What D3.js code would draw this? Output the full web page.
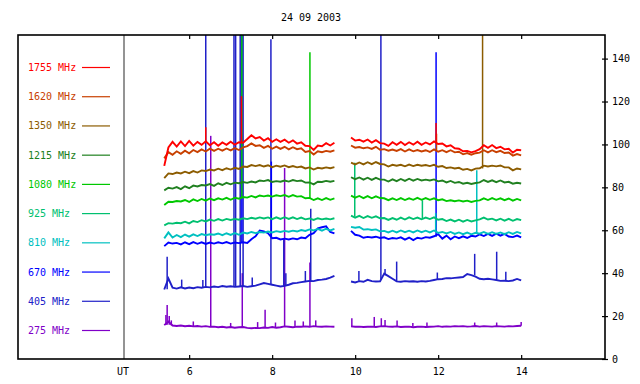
<!DOCTYPE html>
<html>
<head>
<meta charset="utf-8">
<script src="https://cdn.jsdelivr.net/npm/d3@7"></script>
<style>
  html, body { margin: 0; padding: 0; background: #ffffff; }
  svg { display: block; }
  text { font-family: "DejaVu Sans Mono", "Liberation Mono", monospace; font-size: 10px; }
</style>
</head>
<body>
<svg id="chart" width="640" height="384"></svg>
<script>
// ---------------- DATA ----------------
const title = "24 09 2003";
const xTicks = [6, 8, 10, 12, 14];
const yTicks = [0, 20, 40, 60, 80, 100, 120, 140];
const channels = ["1755 MHz", "1620 MHz", "1350 MHz", "1215 MHz", "1080 MHz", "925 MHz", "810 MHz", "670 MHz", "405 MHz", "275 MHz"];

// UT hours of the two observing intervals
const hoursA = [5.4,5.5,5.6,5.7,5.8,5.9,6.0,6.1,6.2,6.3,6.4,6.5,6.6,6.7,6.8,6.9,7.0,7.1,7.2,7.3,7.4,7.5,7.6,7.7,7.8,7.9,8.0,8.1,8.2,8.3,8.4,8.5,8.6,8.7,8.8,8.9,9.0,9.1,9.2,9.3,9.4,9.5];
const hoursB = [9.9,10.0,10.1,10.2,10.3,10.4,10.5,10.6,10.7,10.8,10.9,11.0,11.1,11.2,11.3,11.4,11.5,11.6,11.7,11.8,11.9,12.0,12.1,12.2,12.3,12.4,12.5,12.6,12.7,12.8,12.9,13.0,13.1,13.2,13.3,13.4,13.5,13.6,13.7,13.8,13.9,14.0];

const f1755A = [90,98.6,101.2,99,101.4,99.2,101.6,99.4,101.2,99.8,101.5,99.6,101,99.4,100.9,99.8,101.3,99.9,101,100.8,102.5,104.3,102.8,103.4,101.8,102.9,101.2,102.4,101.2,102.2,100.8,101.9,100.4,101,99.4,99.2,97.4,99.5,99.2,100.6,99.5,100.8];
const f1755B = [103.2,101.8,102.2,101.3,102.3,100.9,102,100.6,100.4,99.3,101,99.8,101.2,99.7,101,99.9,101.3,99.8,100.9,100,101.4,100.2,100.4,99.1,99.6,98.2,98,96.8,97,96.3,96.9,97.8,99.6,98.4,99.7,98.3,98.9,97.7,98,96.2,97.5,97.3];
const f1755Spikes = [[6.40,101,108],[7.26,101,122.5],[11.95,100.5,110]];

const f1620A = [93.5,96.4,95.2,96.8,95.6,97.1,95.9,97.4,96.4,97.7,96.7,98,97,98,97.1,98.1,97.2,98.3,97.4,98.6,99.2,100.5,99.3,99.6,98.4,99.3,98,99,97.9,98.9,97.7,98.7,97.8,98.2,96.5,96.9,95.3,96.8,96.4,97,96.6,97.2];
const f1620B = [99.5,98.5,98.8,98.2,98.6,97.9,98.9,97.5,97.8,97.1,97.6,97,97.8,96.7,97.7,96.8,97.4,96.7,97.3,96.5,97.7,96.6,97.3,96.4,97.3,96.3,96.6,95.4,96,95.2,95.9,96.2,97.3,96.3,97.3,96.4,97,96,96.2,94.8,95.5,94.9];
const f1620Spikes = [[11.96,97,105]];

const f1350A = [84.3,86.5,86.2,86.9,86.5,87.3,86.6,87.6,86.9,87.9,87.6,88.3,87.9,88.7,88,88.9,88.3,89.1,88.6,89.7,89.5,90.4,89.9,90.4,89.7,90.3,89.4,90.1,89.6,90.2,89.4,89.9,89.3,89.7,88.8,89.3,88.3,89.1,88.8,89.3,88.9,89.4];
const f1350B = [91.5,90.7,91.6,90.7,91.7,90.8,91.8,90.9,90.7,89.7,90.5,90.1,90.5,89.8,90.6,89.9,90.5,90.1,90.4,89.9,90.5,89.6,89.9,89,89.3,88.8,89.1,88.2,88.6,87.9,88.7,88.9,90.1,89.7,90.1,89.8,90.2,89.3,89.3,87.9,88.8,88.4];
const f1350Spikes = [[13.07,88.8,151]];

const f1215A = [78.6,79.8,79.4,80.1,79.2,80.5,79.6,80.8,80.4,81.1,80.9,81.5,80.7,81.9,81.1,82.1,81.4,82.2,81.9,82.5,82.1,82.7,82.3,83.2,82.9,83.4,82.5,82.9,82.6,83.2,82.7,83.4,82.9,83.2,82.2,82.3,81.4,82.6,82.5,83,82.6,83];
const f1215B = [84.7,83.8,84.6,83.6,84.5,83.5,84.4,83.6,83.6,82.7,83.7,82.9,83.9,83,84,83.1,83.9,83.2,83.6,83.2,83.7,82.8,83.2,82.3,83,82.1,82.5,81.7,82.1,81.6,82,82.3,83.4,82.5,83.3,82.4,83.2,82.3,82.6,81.7,82.1,81.8];
const f1215Spikes = [];

const f1080A = [71.8,73.3,73.2,73.6,73.4,74.1,73.2,74.4,73.6,74.6,73.8,74.8,74,74.9,74.3,75.1,74.2,75.2,74.7,75.5,75.2,76,75.3,76.2,75.8,76.2,75.7,76.3,75.9,76.4,75.6,76.4,75.7,75.9,74.9,75.1,74.1,74.9,74.1,75,74.2,74.9];
const f1080B = [76.1,75.2,76,75,75.9,74.9,75.8,75,74.9,74,74.9,74.1,75,74.1,74.9,74.2,75.1,74.2,75,74.2,74.9,74,74.4,73.6,74,73.5,73.9,73.4,73.8,73.2,73.7,73.9,74.9,74.1,75,74.2,74.9,74,74.8,73.8,74.6,73.9];
const f1080Spikes = [[8.91,74.8,143],[7.27,75.2,151]];

const f925A = [62.3,63.3,63.1,63.5,63.3,64,63.2,64.3,63.8,64.7,64.1,65,64.4,65.2,64.5,65.3,64.8,65.3,64.9,65.6,65.2,65.8,65.4,66,65.5,66,65.2,66,65.3,66.1,65.3,66,65.2,65.9,65.1,65.5,64.8,65.6,65.1,65.5,65.1,65.6];
const f925B = [66.8,65.9,66.7,65.7,66.6,65.8,66.5,65.6,65.7,64.8,65.7,64.9,65.9,65,66,65.2,65.9,65.1,65.9,65.2,66,64.9,65.2,64.3,65,64.1,64.9,64,64.8,64.1,64.6,65.1,65.9,65,65.4,64.6,65.4,64.5,65.3,64.4,65.2,64.7];
const f925Spikes = [[9.99,66.3,91.5],[11.62,65.4,74]];

const f810A = [56.2,59,56.6,57.8,56.8,58,57,58.1,57.3,58.2,57.7,58.1,57.9,58.5,57.7,58.6,57.8,58.7,57.9,58.9,58.5,59.2,58.7,59.2,58.9,59.4,59,59.6,59.2,59.7,59.3,59.8,59.4,60.1,59.7,60.4,59.9,60.6,59.8,60.7,59.9,60.6];
const f810B = [61.6,61.2,61.5,60.3,60.5,60.1,60.4,59.5,59.7,59,59.8,59,59.9,59.1,59.8,59,59.9,59.1,59.8,59,59.9,58.8,59.2,58.5,59.2,58.3,59,58.2,58.9,58.1,58.8,58.4,59.2,58.3,59.1,58.3,59,58.2,59.1,58.3,59.2,58.5];
const f810Spikes = [[12.93,58.5,88],[11.94,59.4,68]];

const f670A = [52.6,54.3,53.8,54.1,53.4,54.4,53.5,54.5,53.7,54.4,53.6,54.3,53.8,54.4,53.9,54.5,53.8,54.3,54,54.4,54.1,55.8,57.2,59.9,59.5,58.6,56.3,56.5,55.7,56.1,55.7,56.2,55.8,56.6,56.3,57.9,58.6,60.9,61.4,61.8,59.2,58.5];
const f670B = [59.7,57.9,57.5,56.5,56.9,56.6,57,56.4,56.7,55.9,56.4,56.1,56.7,55.6,56.6,55.4,56.5,56.1,56.8,56.5,57.2,58.2,56.1,57.5,55.8,57.1,56.3,57.2,56.4,57.4,57.1,58.1,57.3,58.3,57.4,58.4,57.5,58.3,57.1,56.8,57.5,56.7];
const f670Spikes = [[11.95,57,143],[7.27,54.1,151],[7.98,57,92]];

const f405A = [32.4,37.5,33.2,32.8,33.4,32.9,33.3,33,33.5,33.2,33.6,33.4,33.8,33.5,34,33.7,33.9,33.6,33.8,34,33.6,33.9,34.2,34.8,35.4,35,34.6,34.2,33.8,34.1,34.6,35.3,35.5,35.8,36.1,36.4,36.3,36.8,37,37.3,37.9,38.7];
const f405B = [36.1,35.7,36.3,36,36.9,36.3,36.1,36.2,39.8,38.6,37.4,36.2,36,36.3,36.1,36.2,36,36.3,36.1,36.4,36.8,37.2,37.3,37.7,37.6,37.8,38,38.2,39.6,39.1,38.4,37.4,37.2,37.4,37.1,36.8,36.4,36.5,36.3,36.6,37.3,36.6];
const f405Spikes = [[5.47,32.5,47.7],[5.82,33.4,37],[6.33,33.2,36.8],[6.40,33.6,151],[7.08,33.9,151],[7.12,33.7,151],[7.23,34,151],[7.30,34,151],[7.52,33.9,38],[7.97,35,149],[8.28,34,56],[8.33,34.1,40],[8.80,36.1,41],[8.93,36.4,70],[10.09,36.5,41],[10.62,37,151],[10.72,39,42],[11.0,36.2,45.4],[11.98,37.2,40.3],[12.88,39,49],[13.41,37,50],[13.63,36.4,40.7]];

const f275A = [15.8,17.5,15.6,15.4,15.6,15.3,15.5,15.2,15.4,15.1,15.3,15,15.1,14.8,15,14.7,14.9,14.6,14.8,14.9,14.5,14.3,14.5,14.4,14.7,14.5,14.9,14.6,14.8,15.2,15,14.8,15.1,15,15.2,15,15.3,15.1,15,15.2,15.1,15];
const f275B = [15.2,15,15.1,14.9,15,15.1,14.9,15.2,15.3,15.1,15,15.2,14.9,15,15.1,14.8,15,15.1,14.9,15,15.1,15.3,15,15.2,15.1,15.3,15.2,15.3,15.1,15.2,15.4,15.1,15.3,15.2,15.1,15.3,15.2,15.1,15.3,15.2,15.4,15.5];
const f275Spikes = [[5.44,15.8,20.5],[5.47,16,25.2],[5.52,16,20],[5.57,15.7,18],[6.1,15,17.5],[6.52,15,104],[7.0,14.9,16.8],[7.28,14.9,40],[7.65,14.5,17.2],[7.83,14.6,22.9],[8.08,14.9,17],[8.30,15.1,89],[8.55,15,18],[8.75,15,17.5],[8.91,15,45],[9.05,15.3,18],[9.92,15.2,19],[10.46,15,19.6],[10.63,15.2,19],[10.72,15.3,18.2],[11.01,15.2,18],[11.39,15,16.8],[11.73,15,17],[12.88,15.2,17],[13.41,15.2,17],[14.0,15.5,17.3]];

// ---------------- STYLE ----------------
const colors = ["#ff0000", "#c84000", "#8c5c00", "#208020", "#00c800", "#00c070", "#00c0c0", "#0000ff", "#2020c8", "#8000c8"];

const series = [
  { label: channels[0], A: f1755A, B: f1755B, spikes: f1755Spikes },
  { label: channels[1], A: f1620A, B: f1620B, spikes: f1620Spikes },
  { label: channels[2], A: f1350A, B: f1350B, spikes: f1350Spikes },
  { label: channels[3], A: f1215A, B: f1215B, spikes: f1215Spikes },
  { label: channels[4], A: f1080A, B: f1080B, spikes: f1080Spikes },
  { label: channels[5], A: f925A, B: f925B, spikes: f925Spikes },
  { label: channels[6], A: f810A, B: f810B, spikes: f810Spikes },
  { label: channels[7], A: f670A, B: f670B, spikes: f670Spikes },
  { label: channels[8], A: f405A, B: f405B, spikes: f405Spikes },
  { label: channels[9], A: f275A, B: f275B, spikes: f275Spikes }
].map((s, i) => Object.assign(s, { color: colors[i] }));

// ---------------- LAYOUT ----------------
const svg = d3.select("#chart");
const frame = { left: 18, right: 605, top: 35, bottom: 359 };
const utX = 124;

const x = d3.scaleLinear().domain([4.43, 16.02]).range([utX, frame.right]);
const y = d3.scaleLinear().domain([0, 151]).range([frame.bottom, frame.top]);

svg.append("defs").append("clipPath").attr("id", "plotclip")
  .append("rect").attr("x", utX).attr("y", frame.top)
  .attr("width", frame.right - utX).attr("height", frame.bottom - frame.top);

// Title
svg.append("text").attr("x", 311).attr("y", 21).attr("text-anchor", "middle")
  .attr("fill", "#000").text(title);

// UT separator line
svg.append("line").attr("x1", utX).attr("x2", utX)
  .attr("y1", frame.top).attr("y2", frame.bottom)
  .attr("stroke", "#707070").attr("stroke-width", 1.5);

// Data
const plot = svg.append("g").attr("clip-path", "url(#plotclip)");
const line = d3.line().x(d => x(d[0])).y(d => y(d[1]));

const drawOrder = series.slice().reverse();
drawOrder.forEach(s => {
  const g = plot.append("g");
  [d3.zip(hoursA, s.A), d3.zip(hoursB, s.B)].forEach(seg => {
    g.append("path").datum(seg).attr("d", line)
      .attr("fill", "none").attr("stroke", s.color)
      .attr("stroke-width", 1.9).attr("stroke-linejoin", "miter");
  });
  g.selectAll("line.spike").data(s.spikes).enter().append("line")
    .attr("class", "spike")
    .attr("x1", d => x(d[0])).attr("x2", d => x(d[0]))
    .attr("y1", d => y(d[1])).attr("y2", d => y(d[2]))
    .attr("stroke", s.color).attr("stroke-width", 1.5);
});

// Legend
const legendY = d3.scalePoint().domain(channels).range([67.5, 330.5]);
const legend = svg.append("g");
series.forEach(s => {
  const ly = legendY(s.label);
  legend.append("text").attr("x", 28).attr("y", ly + 3.5)
    .attr("fill", s.color).text(s.label);
  legend.append("line").attr("x1", 82).attr("x2", 110)
    .attr("y1", ly).attr("y2", ly)
    .attr("stroke", s.color).attr("stroke-width", 1.2);
});

// Frame
svg.append("rect").attr("x", frame.left).attr("y", frame.top)
  .attr("width", frame.right - frame.left).attr("height", frame.bottom - frame.top)
  .attr("fill", "none").attr("stroke", "#000").attr("stroke-width", 1.6);

// Bottom axis
const bottomAxis = d3.axisBottom(x).tickValues(xTicks).tickSize(-4).tickPadding(9)
  .tickFormat(d3.format("d"));
const gb = svg.append("g").attr("transform", `translate(0,${frame.bottom})`).call(bottomAxis);
gb.select(".domain").remove();
gb.selectAll("line").attr("stroke", "#000").attr("stroke-width", 1.2);
gb.selectAll("text").attr("font-family", "DejaVu Sans Mono").attr("font-size", 10).attr("fill", "#000");
svg.append("text").attr("x", utX - 1).attr("y", frame.bottom + 16).attr("text-anchor", "middle")
  .attr("fill", "#000").text("UT");

// Top ticks
const topAxis = d3.axisTop(x).tickValues(xTicks).tickSize(-4).tickFormat("");
const gt = svg.append("g").attr("transform", `translate(0,${frame.top})`).call(topAxis);
gt.select(".domain").remove();
gt.selectAll("line").attr("stroke", "#000").attr("stroke-width", 1.2);

// Right axis
const rightAxis = d3.axisRight(y).tickValues(yTicks).tickSize(3).tickPadding(4)
  .tickFormat(d3.format("d"));
const gr = svg.append("g").attr("transform", `translate(${frame.right},0)`).call(rightAxis);
gr.select(".domain").remove();
gr.selectAll("line").attr("x1", -3).attr("stroke", "#000").attr("stroke-width", 1.2);
gr.selectAll("text").attr("font-family", "DejaVu Sans Mono").attr("font-size", 10).attr("fill", "#000");
</script>
</body>
</html>
